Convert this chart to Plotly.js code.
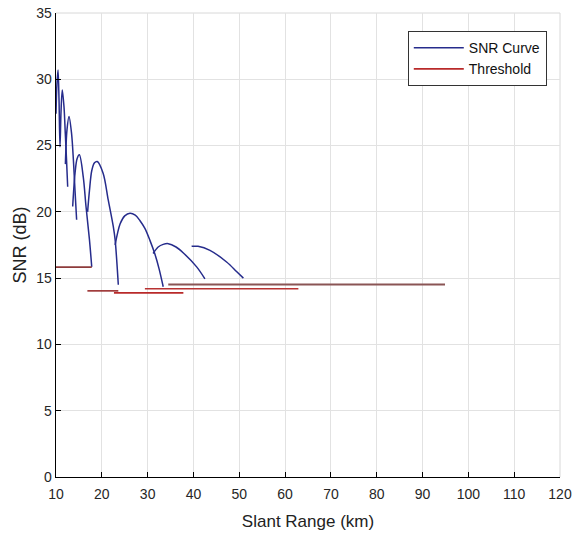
<!DOCTYPE html>
<html>
<head>
<meta charset="utf-8">
<script src="https://cdn.plot.ly/plotly-3.0.1.min.js"></script>
<style>html,body{margin:0;padding:0;background:#fff}#chart{width:572px;height:534px}</style>
</head>
<body>
<div id="chart"></div>
<script>
// SNR curve (lobes separated by null gaps)
const snrRange = [
  10.0, 10.2, 10.44, 10.65, 10.87, 11.1, 11.37, 11.75, 12.03, 12.3, 12.55, null,
  12.05, 12.4, 12.84, 13.4, 13.8, 14.15, 14.5, null,
  13.64, 14.15, 14.6, 15.1, 15.96, 16.55, 17.3, 17.8, null,
  16.9, 17.3, 17.8, 18.4, 19.0, 20.3, 21.4, 22.5, 22.9, 23.6, null,
  22.9, 24.0, 25.0, 26.15, 27.3, 28.3, 29.4, 30.5, 31.6, 32.5, 33.4, null,
  31.2, 32.3, 33.4, 34.5, 36.2, 37.8, 40.7, 42.5, null,
  39.6, 41.0, 43.6, 47.3, 49.4, 50.9
];
const snrValue = [
  27.4, 29.6, 30.7, 28.6, 24.9, 27.6, 29.2, 27.9, 25.9, 23.9, 21.9, null,
  23.6, 26.2, 27.2, 25.9, 23.9, 21.6, 19.4, null,
  20.4, 22.9, 24.0, 24.3, 22.6, 20.4, 17.9, 15.85, null,
  20.0, 21.6, 23.1, 23.7, 23.8, 22.9, 20.9, 18.9, 17.9, 14.5, null,
  17.5, 19.1, 19.7, 19.9, 19.75, 19.35, 18.75, 17.85, 16.8, 15.7, 14.35, null,
  16.86, 17.35, 17.55, 17.6, 17.35, 16.9, 15.85, 14.95, null,
  17.4, 17.4, 17.1, 16.2, 15.5, 15.0
];
// Threshold segments
const thrStart = [10.0, 16.85, 22.65, 29.4, 34.5];
const thrEnd   = [17.8, 23.6, 37.8, 62.9, 94.9];
const thrLevel = [15.83, 14.04, 13.89, 14.2, 14.52];

const xTicks = [10,20,30,40,50,60,70,80,90,100,110,120];
const yTicks = [0,5,10,15,20,25,30,35];

// styles
const thrColors = ['#8e3b3b', '#9a2f2f', '#b92a2a', '#b83232', '#8a5555'];
const fontFam = 'Liberation Sans, Arial, sans-serif';

const traces = [{
  x: snrRange, y: snrValue, mode: 'lines', name: 'SNR Curve',
  line: {color: '#262c8c', width: 1.5, shape: 'spline', smoothing: 0.9}, connectgaps: false,
  legendgroup: 'snr'
}];
thrStart.forEach((s, i) => {
  traces.push({
    x: [s, thrEnd[i]], y: [thrLevel[i], thrLevel[i]], mode: 'lines',
    name: 'Threshold', legendgroup: 'thr', showlegend: i === 2,
    line: {color: thrColors[i], width: i === 4 ? 2 : 1.6}
  });
});

const axisCommon = {
  ticks: 'inside', ticklen: 5, tickcolor: '#000', tickwidth: 1,
  showline: true, linecolor: '#000', linewidth: 1.3,
  showgrid: true, gridcolor: '#e2e2e2', gridwidth: 1,
  zeroline: false, tickfont: {family: fontFam, size: 14, color: '#262626'}
};

const layout = {
  width: 572, height: 534,
  margin: {l: 56, r: 12, t: 13, b: 57},
  paper_bgcolor: '#fff', plot_bgcolor: '#fff',
  xaxis: Object.assign({}, axisCommon, {
    range: [10, 120], tickvals: xTicks, ticktext: xTicks.map(String),
    ticklabelstandoff: 4,
    title: {text: 'Slant Range (km)', font: {family: fontFam, size: 17, color: '#222'}, standoff: 14}
  }),
  yaxis: Object.assign({}, axisCommon, {
    range: [0, 35], tickvals: yTicks, ticktext: yTicks.map(String),
    title: {text: 'SNR (dB)', font: {family: fontFam, size: 18, color: '#222'}, standoff: 5}
  }),
  legend: {
    x: 0.698, y: 0.961, xanchor: 'left', yanchor: 'top',
    bgcolor: '#fff', bordercolor: '#333', borderwidth: 1,
    font: {family: fontFam, size: 14, color: '#111'},
    itemwidth: 50, tracegroupgap: 0, traceorder: 'grouped'
  },
  shapes: [
    {type: 'line', xref: 'paper', yref: 'paper', x0: 0, x1: 1, y0: 1, y1: 1, line: {color: '#d8d8d8', width: 1}, layer: 'below'},
    {type: 'line', xref: 'paper', yref: 'paper', x0: 1, x1: 1, y0: 0, y1: 1, line: {color: '#d8d8d8', width: 1}, layer: 'below'}
  ],
  showlegend: true
};

Plotly.newPlot('chart', traces, layout, {displayModeBar: false, staticPlot: true});
</script>
</body>
</html>
